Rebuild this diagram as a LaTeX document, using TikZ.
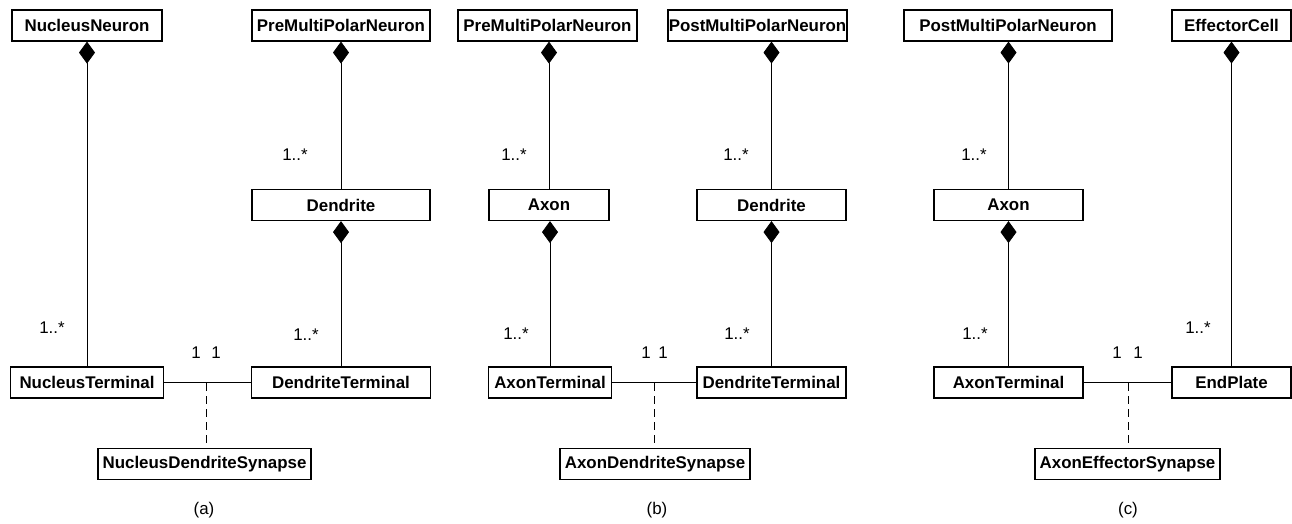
\documentclass[tikz,border=0pt]{standalone}
\usepackage{fontspec}
\setmainfont{Liberation Sans}
\usetikzlibrary{arrows.meta}
\begin{document}
\begin{tikzpicture}[x=1pt,y=-1pt,
  cls/.style={draw, line width=1.2pt, rectangle, inner sep=0pt, minimum height=31pt,
              font=\fontsize{16.9}{18}\selectfont\bfseries},
  mult/.style={inner sep=0pt, font=\fontsize{16.9}{18}\selectfont},
  comp/.style={draw, line width=0.8pt, -{Diamond[length=22pt,width=16pt]}},
  assoc/.style={draw, line width=0.8pt},
  link/.style={draw, line width=0.8pt, dash pattern=on 8pt off 5pt}]
\useasboundingbox (0,0) rectangle (1292,524);

% ---------- (a) ----------
\node[cls, minimum width=150pt] (nn)   at (87,25.5)    {NucleusNeuron};
\node[cls, minimum width=178pt] (prea) at (341,25.5)   {PreMultiPolarNeuron};
\node[cls, minimum width=178pt] (dena) at (341,205)    {Dendrite};
\node[cls, minimum width=153pt] (nt)   at (87,382.5)   {NucleusTerminal};
\node[cls, minimum width=179pt] (dta)  at (341,382.5)  {DendriteTerminal};
\node[cls, minimum width=213pt] (nds)  at (204.5,464)  {NucleusDendriteSynapse};
\coordinate (ja) at (206,383);

\draw[comp] (dena.north) -- (dena.north |- prea.south);
\draw[comp] (nt.north)   -- (nt.north |- nn.south);
\draw[comp] (dta.north)  -- (dta.north |- dena.south);
\draw[assoc] (nt.east) -- (dta.west);
\draw[link] (ja) -- (ja |- nds.north);

\node[mult] (ma1) at (295,155) {1..*};
\node[mult] (ma2) at (52,328)  {1..*};
\node[mult] (ma3) at (306,335) {1..*};
\node[mult] (ma4) at (196,353) {1};
\node[mult] (ma5) at (216,353) {1};
\node[mult] (capa) at (204,510) {(a)};

% ---------- (b) ----------
\node[cls, minimum width=179pt] (preb)  at (547.5,25.5) {PreMultiPolarNeuron};
\node[cls, minimum width=179pt] (postb) at (757.5,25.5) {PostMultiPolarNeuron};
\node[cls, minimum width=120pt] (axb)   at (549,205)    {Axon};
\node[cls, minimum width=149pt] (denb)  at (771.5,205)  {Dendrite};
\node[cls, minimum width=123pt] (atb)   at (550,382.5)  {AxonTerminal};
\node[cls, minimum width=149pt] (dtb)   at (771.5,382.5){DendriteTerminal};
\node[cls, minimum width=190pt] (ads)   at (655,464)    {AxonDendriteSynapse};
\coordinate (jb) at (654,383);

\draw[comp] (axb.north)  -- (axb.north |- preb.south);
\draw[comp] (denb.north) -- (denb.north |- postb.south);
\draw[comp] (atb.north)  -- (atb.north |- axb.south);
\draw[comp] (dtb.north)  -- (dtb.north |- denb.south);
\draw[assoc] (atb.east) -- (dtb.west);
\draw[link] (jb) -- (jb |- ads.north);

\node[mult] (mb1) at (514,155) {1..*};
\node[mult] (mb2) at (736,155) {1..*};
\node[mult] (mb3) at (516,334) {1..*};
\node[mult] (mb4) at (737,334) {1..*};
\node[mult] (mb5) at (646,353) {1};
\node[mult] (mb6) at (663,353) {1};
\node[mult] (capb) at (657,510) {(b)};

% ---------- (c) ----------
\node[cls, minimum width=208pt] (postc) at (1008,25.5)   {PostMultiPolarNeuron};
\node[cls, minimum width=119pt] (eff)   at (1231.5,25.5) {EffectorCell};
\node[cls, minimum width=149pt] (axc)   at (1008.5,205)  {Axon};
\node[cls, minimum width=149pt] (atc)   at (1008.5,382.5){AxonTerminal};
\node[cls, minimum width=119pt] (ep)    at (1231.5,382.5){EndPlate};
\node[cls, minimum width=185pt] (aes)   at (1127.5,464)  {AxonEffectorSynapse};
\coordinate (jc) at (1128,383);

\draw[comp] (axc.north) -- (axc.north |- postc.south);
\draw[comp] (atc.north) -- (atc.north |- axc.south);
\draw[comp] (ep.north)  -- (ep.north |- eff.south);
\draw[assoc] (atc.east) -- (ep.west);
\draw[link] (jc) -- (jc |- aes.north);

\node[mult] (mc1) at (974,155)  {1..*};
\node[mult] (mc2) at (975,334)  {1..*};
\node[mult] (mc3) at (1198,328) {1..*};
\node[mult] (mc4) at (1117,353) {1};
\node[mult] (mc5) at (1138,353) {1};
\node[mult] (capc) at (1128,510) {(c)};
\end{tikzpicture}
\end{document}
